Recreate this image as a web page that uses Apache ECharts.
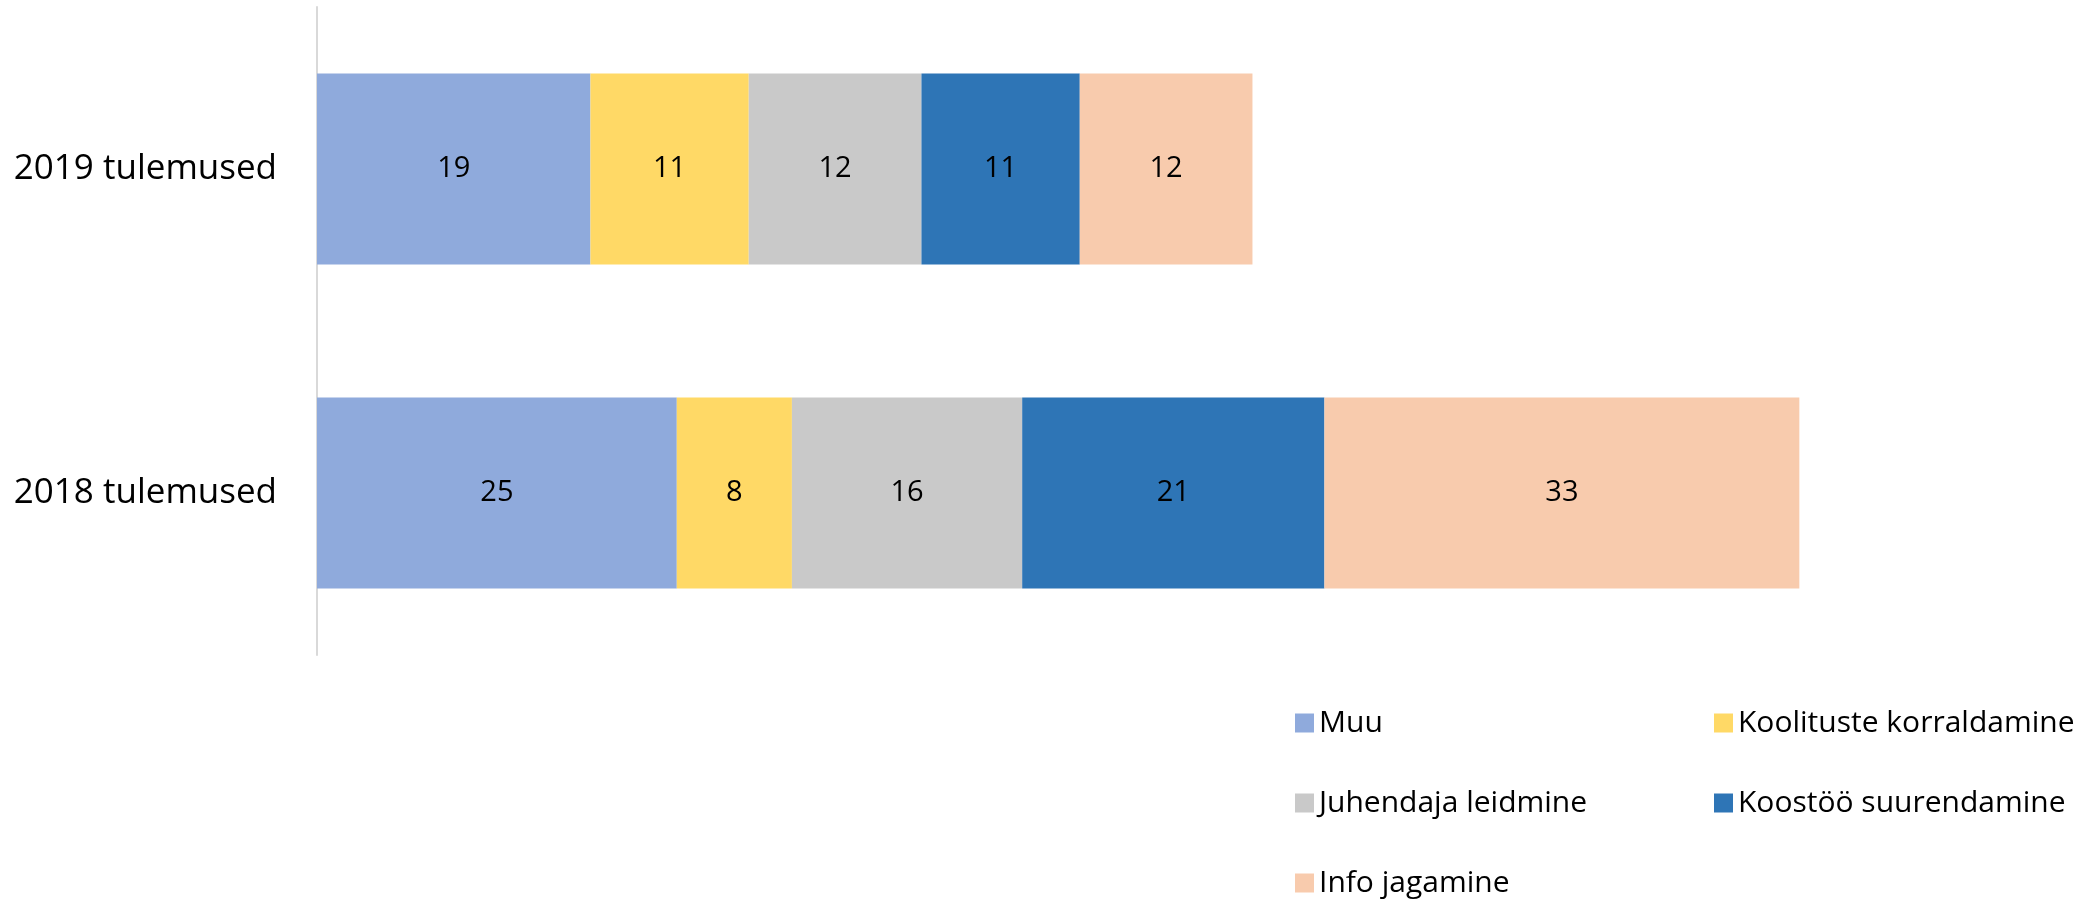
<!DOCTYPE html>
<html>
<head>
<meta charset="utf-8">
<script src="https://cdn.jsdelivr.net/npm/echarts@6/dist/echarts.min.js"></script>
<style>
  html, body { margin: 0; padding: 0; background: #fff; }
  #chart { width: 2089px; height: 900px; }
</style>
</head>
<body>
<div id="chart"></div>
<script>
// categories, bottom to top
const categories = ['2018 tulemused', '2019 tulemused'];
const seriesNames = ['Muu', 'Koolituste korraldamine', 'Juhendaja leidmine', 'Koostöö suurendamine', 'Info jagamine'];
const muu = [25, 19];
const koolitused = [8, 11];
const juhendaja = [16, 12];
const koostoo = [21, 11];
const info = [33, 12];
const colors = ['#8FAADC', '#FFD966', '#C9C9C9', '#2E75B6', '#F8CBAD'];

const values = [muu, koolitused, juhendaja, koostoo, info];
const font = '"Open Sans", "Noto Sans", sans-serif';

let myChart = echarts.init(document.getElementById('chart'));

let legendStyle = {
    orient: 'vertical',
    top: 707,
    height: 260,
    padding: 0,
    itemWidth: 19,
    itemHeight: 19,
    itemGap: 48,
    selectedMode: false,
    icon: 'rect',
    textStyle: { fontSize: 30, lineHeight: 32, color: '#000', fontFamily: font }
};

let option = {
    color: colors,
    textStyle: { fontFamily: font },
    grid: { left: 317, top: 7, width: 1727, height: 648 },
    legend: [
        Object.assign({}, legendStyle, { left: 1295, data: [seriesNames[0], seriesNames[2], seriesNames[4]] }),
        Object.assign({}, legendStyle, { left: 1714, data: [seriesNames[1], seriesNames[3]] })
    ],
    xAxis: {
        type: 'value',
        min: 0,
        max: 120,
        show: false
    },
    yAxis: {
        type: 'category',
        data: categories,
        axisLine: { show: true, lineStyle: { color: '#D9D9D9', width: 2 } },
        axisTick: { show: false },
        axisLabel: { fontSize: 35, color: '#000', margin: 40, fontFamily: font }
    },
    series: seriesNames.map((name, i) => ({
        name: name,
        type: 'bar',
        stack: 'total',
        barWidth: '59%',
        data: values[i],
        label: {
            show: true,
            position: 'inside',
            fontSize: 29,
            color: '#000',
            fontFamily: font
        }
    }))
};
myChart.setOption(option);
</script>
</body>
</html>
